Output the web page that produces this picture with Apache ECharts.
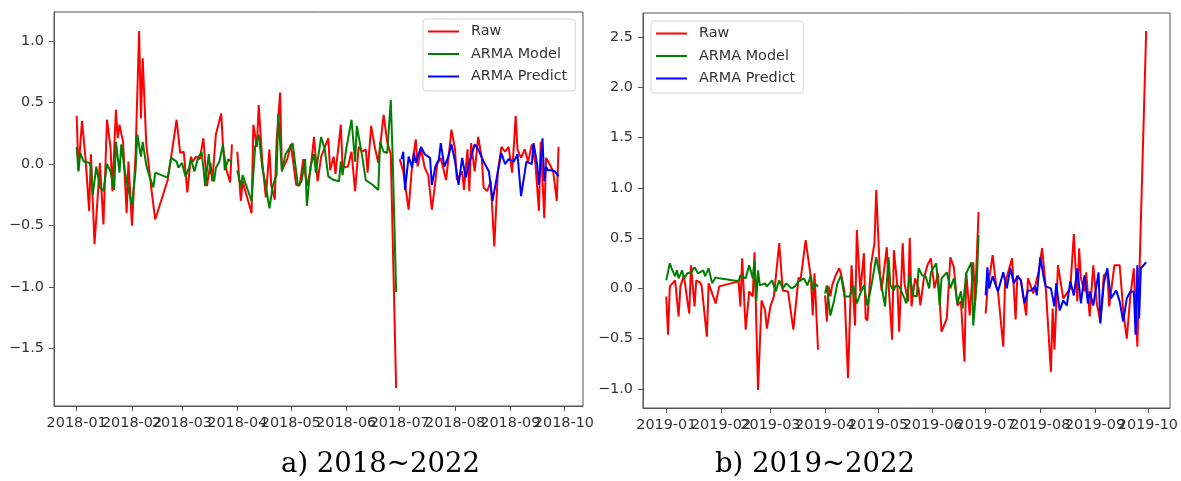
<!DOCTYPE html>
<html><head><meta charset="utf-8">
<script src="https://cdn.jsdelivr.net/npm/echarts@6/dist/echarts.min.js"></script>
<style>html,body{margin:0;padding:0;background:#fff}#c{width:1181px;height:481px}</style>
</head><body><div id="c"></div>
<script>
// ---- Panel a (2018) ----
const aRawQ1 = [['01-01',0.39],['01-02',-0.05],['01-04',0.35],['01-06',0.04],['01-08',-0.38],['01-09',0.08],['01-11',-0.65],['01-13',-0.22],['01-14',0.01],['01-16',-0.49],['01-18',0.36],['01-20',0.13],['01-21',-0.22],['01-23',0.44],['01-24',0.21],['01-25',0.32],['01-27',0.18],['01-29',-0.40],['01-30',0.02],['02-01',-0.50],['02-03',0.08],['02-05',1.08],['02-06',0.37],['02-07',0.86],['02-09',0.16],['02-11',-0.09],['02-12',-0.22],['02-14',-0.45],['02-21',-0.13],['02-26',0.36],['02-28',0.09],['03-02',0.10],['03-04',-0.23],['03-06',0.06],['03-07',0.02],['03-09',0.06],['03-11',0.04],['03-13',0.21],['03-15',-0.18],['03-17',0.01],['03-18',-0.14],['03-20',0.24],['03-23',0.41],['03-24',0.14],['03-26',-0.05],['03-28',-0.15],['03-29',0.16]];
const aRawQ2 = [['04-01',0.10],['04-03',-0.30],['04-04',-0.14],['04-09',-0.40],['04-10',0.32],['04-12',0.14],['04-13',0.48],['04-15',0.02],['04-17',-0.27],['04-19',0.12],['04-20',-0.17],['04-22',-0.29],['04-23',0.18],['04-25',0.58],['04-26',-0.05],['04-29',0.04],['05-01',0.16],['05-04',-0.17],['05-06',-0.17],['05-08',0.04],['05-10',-0.18],['05-12',-0.05],['05-14',0.22],['05-16',-0.14],['05-18',0.06],['05-22',0.21],['05-23',-0.05],['05-25',0.06],['05-26',-0.08],['05-29',0.32],['05-30',-0.03],['06-02',-0.02],['06-04',0.10],['06-06',-0.22],['06-08',0.14],['06-10',0.10],['06-12',0.12],['06-13',-0.07],['06-15',0.31],['06-17',0.14],['06-19',0.01],['06-22',0.40],['06-24',0.18],['06-26',0.08],['06-29',-1.82]];
const aRawQ3 = [['07-01',0.04],['07-03',-0.06],['07-06',-0.37],['07-08',0.0],['07-10',0.20],['07-11',-0.02],['07-13',0.12],['07-15',-0.03],['07-17',-0.09],['07-19',-0.37],['07-21',-0.14],['07-22',0.0],['07-24',0.05],['07-27',-0.13],['07-30',0.28],['08-01',0.12],['08-02',-0.13],['08-05',-0.06],['08-06',-0.21],['08-08',0.12],['08-09',-0.22],['08-10',0.17],['08-12',-0.06],['08-14',0.22],['08-16',0.05],['08-17',-0.19],['08-19',-0.22],['08-21',-0.14],['08-23',-0.67],['08-25',-0.06],['08-27',0.14],['08-29',0.10],['08-31',0.14],['09-02',-0.07],['09-04',0.39],['09-05',0.12],['09-07',0.05],['09-09',0.12],['09-11',0.02],['09-13',0.16],['09-15',0.01],['09-17',-0.38],['09-18',0.18],['09-20',-0.44],['09-21',0.05],['09-23',0.0],['09-25',-0.06],['09-27',-0.30],['09-28',0.14]];
const aModelQ1 = [['01-01',0.14],['01-02',-0.06],['01-03',0.09],['01-05',0.02],['01-08',0.01],['01-09',-0.02],['01-10',-0.25],['01-12',-0.02],['01-14',-0.19],['01-16',-0.22],['01-18',0.0],['01-20',-0.06],['01-22',-0.21],['01-23',0.18],['01-25',-0.07],['01-26',0.16],['01-28',-0.06],['01-30',-0.21],['02-01',-0.33],['02-03',-0.05],['02-04',0.24],['02-06',0.06],['02-07',0.18],['02-09',-0.01],['02-11',-0.11],['02-13',-0.19],['02-14',-0.07],['02-21',-0.11],['02-23',0.05],['02-26',0.02],['02-27',-0.03],['03-01',0.01],['03-03',-0.10],['03-05',-0.03],['03-06',0.04],['03-08',-0.06],['03-10',0.05],['03-12',0.10],['03-13',-0.03],['03-14',-0.18],['03-16',0.08],['03-17',-0.06],['03-19',-0.14],['03-20',-0.03],['03-22',0.02],['03-24',0.16],['03-25',-0.05],['03-27',0.04],['03-29',0.01]];
const aModelQ2 = [['04-01',-0.05],['04-03',-0.19],['04-04',-0.09],['04-09',-0.30],['04-11',0.14],['04-13',0.24],['04-15',-0.03],['04-17',-0.18],['04-19',-0.36],['04-21',-0.17],['04-23',-0.09],['04-24',0.41],['04-26',-0.06],['04-28',0.08],['05-02',0.17],['05-05',-0.18],['05-07',-0.14],['05-09',0.04],['05-10',-0.34],['05-12',-0.02],['05-14',0.08],['05-15',-0.07],['05-18',0.22],['05-20',0.12],['05-22',-0.10],['05-25',-0.13],['05-28',-0.14],['05-29',0.02],['05-30',-0.09],['06-01',0.12],['06-04',0.36],['06-06',0.02],['06-07',0.31],['06-10',0.06],['06-12',-0.13],['06-13',-0.12],['06-16',-0.17],['06-19',-0.21],['06-20',0.18],['06-22',0.10],['06-24',0.09],['06-26',0.52],['06-27',0.08],['06-29',-1.04]];
const aPredQ3 = [['07-02',0.04],['07-03',0.10],['07-04',-0.21],['07-06',0.06],['07-08',-0.03],['07-09',0.09],['07-10',0.01],['07-13',0.14],['07-15',0.08],['07-18',0.05],['07-19',-0.17],['07-21',-0.02],['07-23',0.04],['07-24',0.17],['07-26',-0.02],['07-28',0.05],['07-30',0.16],['08-01',0.02],['08-03',-0.17],['08-05',0.05],['08-07',-0.11],['08-09',0.01],['08-10',0.02],['08-12',0.16],['08-14',0.12],['08-17',0.02],['08-20',-0.06],['08-22',-0.30],['08-25',-0.06],['08-27',0.09],['08-29',0.0],['08-31',0.04],['09-03',0.02],['09-05',0.08],['09-07',-0.26],['09-10',0.02],['09-13',0.0],['09-14',0.17],['09-16',0.0],['09-17',-0.17],['09-19',0.21],['09-20',-0.14],['09-21',-0.02],['09-22',-0.05],['09-24',-0.05],['09-26',-0.06],['09-28',-0.10]];

// ---- Panel b (2019) ----
const bRawQ1 = [['01-01',-0.08],['01-02',-0.46],['01-03',0.02],['01-06',0.08],['01-08',-0.28],['01-09',0.02],['01-11',0.13],['01-13',-0.13],['01-14',-0.25],['01-15',0.23],['01-17',-0.18],['01-18',0.08],['01-20',0.06],['01-21',0.03],['01-24',-0.48],['01-25',0.05],['01-27',-0.05],['01-29',-0.15],['01-31',0.02],['02-11',0.07],['02-12',-0.18],['02-13',0.30],['02-15',-0.41],['02-17',-0.03],['02-19',-0.08],['02-20',0.36],['02-22',-1.01],['02-24',-0.12],['02-26',-0.22],['02-27',-0.40],['03-01',-0.18],['03-03',-0.08],['03-06',0.45],['03-08',-0.02],['03-11',-0.03],['03-14',-0.41],['03-17',0.11],['03-18',0.07],['03-21',0.48],['03-24',0.10],['03-25',-0.27],['03-26',0.15],['03-28',-0.61]];
const bRawQ2 = [['04-01',-0.07],['04-02',-0.33],['04-03',0.02],['04-04',-0.08],['04-05',0.03],['04-07',0.13],['04-09',0.20],['04-10',0.15],['04-12',-0.03],['04-14',-0.89],['04-16',0.23],['04-18',-0.37],['04-19',0.58],['04-21',-0.03],['04-23',0.35],['04-24',-0.30],['04-25',-0.32],['04-27',0.23],['04-29',0.45],['04-30',0.98],['05-02',0.18],['05-03',-0.02],['05-06',0.41],['05-07',0.03],['05-09',-0.51],['05-10',0.38],['05-12',0.02],['05-13',-0.43],['05-15',0.45],['05-16',0.05],['05-18',-0.13],['05-19',0.50],['05-20',-0.18],['05-22',0.10],['05-24',0.0],['05-25',-0.17],['05-27',0.10],['05-29',0.23],['05-31',0.30],['06-02',0.0],['06-04',0.15],['06-06',-0.43],['06-09',-0.30],['06-11',0.31],['06-13',0.21],['06-15',-0.17],['06-17',-0.13],['06-19',-0.73],['06-20',0.16],['06-22',-0.27],['06-24',0.26],['06-25',-0.13],['06-27',0.76]];
const bRawQ3 = [['07-01',-0.25],['07-02',-0.02],['07-05',0.33],['07-07',0.02],['07-08',-0.03],['07-11',-0.58],['07-12',0.05],['07-16',0.30],['07-18',-0.31],['07-19',0.13],['07-21',0.08],['07-24',-0.27],['07-25',0.10],['07-28',-0.05],['07-31',0.16],['08-02',0.40],['08-04',0.03],['08-07',-0.83],['08-08',-0.20],['08-09',-0.61],['08-11',0.23],['08-14',-0.10],['08-16',-0.05],['08-18',0.0],['08-20',0.54],['08-22',-0.13],['08-23',0.40],['08-24',0.10],['08-26',-0.03],['08-27',0.16],['08-29',-0.28],['08-31',0.23],['09-02',-0.15],['09-04',-0.33],['09-06',0.13],['09-08',0.16],['09-09',-0.18],['09-12',0.23],['09-15',0.23],['09-17',-0.22],['09-19',-0.50],['09-21',-0.08],['09-23',0.20],['09-25',-0.58],['09-30',2.56]];
const bModelQ1 = [['01-01',0.08],['01-03',0.25],['01-04',0.20],['01-06',0.12],['01-07',0.18],['01-08',0.10],['01-10',0.18],['01-11',0.10],['01-13',0.15],['01-15',0.16],['01-17',0.21],['01-19',0.15],['01-22',0.18],['01-23',0.12],['01-25',0.20],['01-27',0.05],['01-29',0.11],['01-31',0.10],['02-11',0.07],['02-12',0.13],['02-15',0.10],['02-17',0.23],['02-19',0.10],['02-20',0.28],['02-21',-0.13],['02-22',0.18],['02-23',0.03],['02-26',0.05],['02-27',0.02],['03-02',0.08],['03-04',-0.03],['03-06',0.08],['03-08',0.0],['03-10',0.05],['03-13',0.0],['03-15',0.02],['03-17',0.07],['03-20',0.10],['03-22',0.03],['03-24',0.13],['03-25',-0.02],['03-26',0.05],['03-28',0.02]];
const bModelQ2 = [['04-01',-0.05],['04-02',0.03],['04-04',-0.27],['04-06',-0.13],['04-08',0.05],['04-10',0.13],['04-12',-0.08],['04-15',-0.08],['04-17',0.03],['04-19',-0.15],['04-21',-0.05],['04-23',0.03],['04-25',-0.17],['04-27',0.0],['04-30',0.31],['05-02',0.13],['05-05',-0.18],['05-07',0.31],['05-08',0.03],['05-10',-0.02],['05-11',0.03],['05-13',0.02],['05-16',-0.10],['05-17',-0.15],['05-19',0.13],['05-21',-0.07],['05-23',-0.08],['05-24',0.20],['05-26',0.13],['05-28',0.12],['05-30',0.0],['05-31',0.16],['06-03',0.25],['06-05',-0.17],['06-06',0.10],['06-09',0.16],['06-11',0.0],['06-13',0.10],['06-15',-0.15],['06-17',-0.03],['06-18',-0.20],['06-20',0.15],['06-23',0.26],['06-24',-0.37],['06-26',0.07],['06-27',0.53]];
const bPredQ3 = [['07-01',-0.07],['07-02',0.21],['07-03',0.0],['07-05',0.12],['07-07',0.02],['07-08',-0.03],['07-11',0.16],['07-13',0.0],['07-15',0.20],['07-17',0.05],['07-19',0.12],['07-21',0.08],['07-23',-0.15],['07-25',-0.02],['07-27',-0.02],['07-29',0.02],['07-30',-0.07],['08-01',0.31],['08-03',0.10],['08-04',0.02],['08-07',0.0],['08-09',-0.18],['08-10',0.05],['08-12',-0.22],['08-14',-0.12],['08-16',-0.17],['08-18',0.07],['08-20',-0.07],['08-22',0.20],['08-24',-0.15],['08-26',0.13],['08-28',-0.15],['08-29',-0.03],['08-31',-0.17],['09-03',0.16],['09-04',-0.35],['09-06',0.05],['09-08',0.20],['09-10',-0.10],['09-13',-0.02],['09-15',-0.13],['09-17',-0.33],['09-19',-0.10],['09-21',-0.03],['09-23',-0.03],['09-24',-0.46],['09-25',0.23],['09-26',-0.30],['09-27',0.20],['09-30',0.26]];

const aYTicks = [-1.5, -1.0, -0.5, 0.0, 0.5, 1.0];
const bYTicks = [-1.0, -0.5, 0.0, 0.5, 1.0, 1.5, 2.0, 2.5];
const evenMonths = [0, 2, 4, 6, 8];   // Jan, Mar, May, Jul, Sep tick labels
const oddMonths = [1, 3, 5, 7, 9];    // Feb, Apr, Jun, Aug, Oct tick labels
const names = ['Raw', 'ARMA Model', 'ARMA Predict'];
const colors = {'Raw': '#ff0000', 'ARMA Model': '#008000', 'ARMA Predict': '#0000ff'};

const DAY = 86400000;
function toPts(year, arr) {
  return arr.map(p => [Date.UTC(year, +p[0].slice(0, 2) - 1, +p[0].slice(3)), p[1]]);
}
const fmtDate = v => { const d = new Date(v); return d.getUTCFullYear() + '-' + String(d.getUTCMonth() + 1).padStart(2, '0'); };
const fmtNum = v => v.toFixed(1).replace('-', '\u2212');
const axisCol = '#555';
const lblStyle = {fontSize: 14.4, color: '#333', fontFamily: 'DejaVu Sans'};

function xAx(gi, year, lo, hi, months, showLine) {
  const ticks = months.map(m => Date.UTC(year, m, 1));
  return {type: 'value', gridIndex: gi, position: 'bottom', min: Date.UTC(year, 0, 1) - lo * DAY, max: Date.UTC(year, 9, 1) + hi * DAY,
    splitLine: {show: false}, axisLine: {show: showLine, onZero: false, lineStyle: {color: axisCol, width: 1}},
    axisTick: {show: true, length: 5, customValues: ticks, lineStyle: {color: axisCol}},
    axisLabel: Object.assign({customValues: ticks, formatter: fmtDate, margin: 10, showMinLabel: true, showMaxLabel: true, hideOverlap: false}, lblStyle)};
}
function yAx(gi, lo, hi, ticks) {
  return {type: 'value', gridIndex: gi, min: lo, max: hi,
    splitLine: {show: false}, axisLine: {show: true, onZero: false, lineStyle: {color: axisCol, width: 1}},
    axisTick: {show: true, length: 5, customValues: ticks, lineStyle: {color: axisCol}},
    axisLabel: Object.assign({customValues: ticks, formatter: fmtNum, margin: 10, showMinLabel: true, showMaxLabel: true}, lblStyle)};
}
function ser(name, gi, year, arr) {
  return {type: 'line', name: name, xAxisIndex: gi, yAxisIndex: gi, data: toPts(year, arr),
    showSymbol: false, symbol: 'none', color: colors[name], lineStyle: {width: 2, color: colors[name]},
    animation: false, silent: true};
}
function leg(left, top) {
  return {data: names, orient: 'vertical', left: left, top: top, icon: 'rect', itemWidth: 31, itemHeight: 2,
    itemGap: 5.5, padding: [4, 8, 6, 5], backgroundColor: 'rgba(255,255,255,0.85)', borderColor: '#d5d5d5',
    borderWidth: 1, borderRadius: 3, selectedMode: false,
    textStyle: {fontSize: 14.4, lineHeight: 17, color: '#333', fontFamily: 'DejaVu Sans', padding: [0, 0, 0, 7]}};
}

const chart = echarts.init(document.getElementById('c'), null, {renderer: 'canvas'});
chart.setOption({
  backgroundColor: '#fff',
  animation: false,
  grid: [
    {left: 54, top: 12, width: 529, height: 394, show: true, borderColor: axisCol, borderWidth: 1, backgroundColor: 'transparent'},
    {left: 643, top: 13, width: 531, height: 395, show: true, borderColor: axisCol, borderWidth: 1, backgroundColor: 'transparent'}
  ],
  xAxis: [
    xAx(0, 2018, 12.7, 10.7, evenMonths, true), xAx(1, 2019, 13.2, 12.5, evenMonths, true),
    xAx(0, 2018, 12.7, 10.7, oddMonths, false), xAx(1, 2019, 13.2, 12.5, oddMonths, false)
  ],
  yAxis: [yAx(0, -1.965, 1.235, aYTicks), yAx(1, -1.19, 2.74, bYTicks)],
  legend: [leg(423, 19), leg(651, 21)],
  title: [
    {text: 'a) 2018~2022', left: 281, top: 451, padding: 0, textStyle: {fontFamily: 'DejaVu Serif', fontSize: 27.5, fontWeight: 'normal', color: '#000'}},
    {text: 'b) 2019~2022', left: 715, top: 451, padding: 0, textStyle: {fontFamily: 'DejaVu Serif', fontSize: 27.5, fontWeight: 'normal', color: '#000'}}
  ],
  series: [
    ser('Raw', 0, 2018, aRawQ1), ser('Raw', 0, 2018, aRawQ2), ser('Raw', 0, 2018, aRawQ3),
    ser('ARMA Model', 0, 2018, aModelQ1), ser('ARMA Model', 0, 2018, aModelQ2),
    ser('ARMA Predict', 0, 2018, aPredQ3),
    ser('Raw', 1, 2019, bRawQ1), ser('Raw', 1, 2019, bRawQ2), ser('Raw', 1, 2019, bRawQ3),
    ser('ARMA Model', 1, 2019, bModelQ1), ser('ARMA Model', 1, 2019, bModelQ2),
    ser('ARMA Predict', 1, 2019, bPredQ3)
  ]
});
</script>
</body></html>
